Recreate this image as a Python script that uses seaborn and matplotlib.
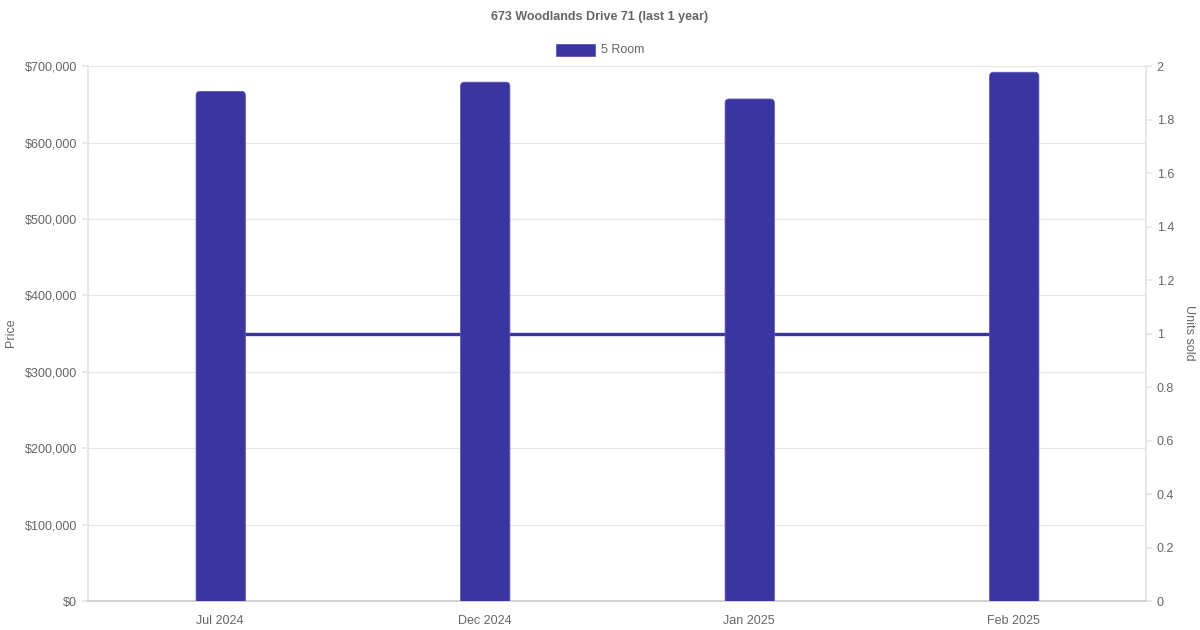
import matplotlib
matplotlib.use('Agg')
import matplotlib.pyplot as plt
import pandas as pd
import seaborn as sns
from matplotlib.patches import FancyBboxPatch
from matplotlib.ticker import FuncFormatter, MultipleLocator

months = ['Jul 2024', 'Dec 2024', 'Jan 2025', 'Feb 2025']
prices = [667000, 679000, 657000, 692000]
units_sold = [1, 1, 1, 1]

df = pd.DataFrame({'month': months, 'price': prices, 'units': units_sold})

sns.set_theme(style='white')
plt.rcParams['font.family'] = ['Liberation Sans', 'DejaVu Sans']

bar_color = '#3A35A0'
text_color = '#666666'
grid_color = '#e5e5e5'

fig = plt.figure(figsize=(12, 6.3), dpi=100)
ax = fig.add_axes([0.0733, 0.046, 0.8817, 0.849])
ax2 = ax.twinx()

# line for units sold on the right axis, behind the bars
ax2.plot(range(len(df)), df['units'], color=bar_color, lw=2.4, solid_capstyle='butt')
ax2.set_ylim(0, 2)
ax2.yaxis.set_major_locator(MultipleLocator(0.2))
ax2.yaxis.set_major_formatter(FuncFormatter(lambda v, p: f'{v:g}'))

ax.set_zorder(ax2.get_zorder() + 1)
ax.patch.set_visible(False)

sns.barplot(data=df, x='month', y='price', color=bar_color, width=0.19,
            saturation=1, ax=ax)

# rounded tops for the bars
ax.set_ylim(0, 700000)
ax.set_xlim(-0.5, len(df) - 0.5)
px_x = 1.0 * len(df) / 1058
px_y = 700000 / 535
for p in list(ax.patches):
    x0, w, h = p.get_x(), p.get_width(), p.get_height()
    p.remove()
    r = 4 * px_x
    fb = FancyBboxPatch((x0 + px_x, -10 * px_y), w - px_x, h + 10 * px_y,
                        boxstyle=f'round,pad=0,rounding_size={r}',
                        mutation_aspect=px_y / px_x,
                        fc=bar_color, ec='#5a56b8', lw=0.6, zorder=3)
    ax.add_patch(fb)

ax.yaxis.set_major_locator(MultipleLocator(100000))
ax.yaxis.set_major_formatter(FuncFormatter(lambda v, p: f'${v:,.0f}'))
ax.grid(axis='y', color=grid_color, lw=0.8)
ax.set_axisbelow(True)
ax.set_xlabel('')
ax.set_ylabel('')

for a in (ax, ax2):
    a.tick_params(colors=text_color, labelsize=9)
    for s in a.spines.values():
        s.set_visible(False)

ax.spines['left'].set_visible(True)
ax.spines['left'].set_color(grid_color)
ax.spines['bottom'].set_visible(True)
ax.spines['bottom'].set_color('#cccccc')
ax2.spines['right'].set_visible(True)
ax2.spines['right'].set_color(grid_color)

ax.tick_params(axis='y', length=4.3, color=grid_color, pad=3.6)
ax.tick_params(axis='x', length=0, pad=10)
ax2.tick_params(axis='y', length=4.3, color=grid_color, pad=3.4)

fig.text(11 / 1200, 1 - 333 / 630, 'Price', rotation=90, ha='center', va='center',
         fontsize=9, color=text_color)
fig.text(1189 / 1200, 1 - 333 / 630, 'Units sold', rotation=270, ha='center', va='center',
         fontsize=9, color=text_color)

fig.text(0.5, 0.973, '673 Woodlands Drive 71 (last 1 year)', ha='center', va='center',
         fontsize=9, fontweight='bold', color=text_color)
fig.patches.append(FancyBboxPatch((556 / 1200, 1 - 56 / 630), 39 / 1200, 12 / 630,
                                  boxstyle='square,pad=0', fc=bar_color, ec='#5a56b8',
                                  lw=0.6, transform=fig.transFigure, figure=fig))
fig.text(601 / 1200, 1 - 50 / 630, '5 Room', ha='left', va='center',
         fontsize=9, color=text_color)

fig.savefig('out.png', dpi=100)
